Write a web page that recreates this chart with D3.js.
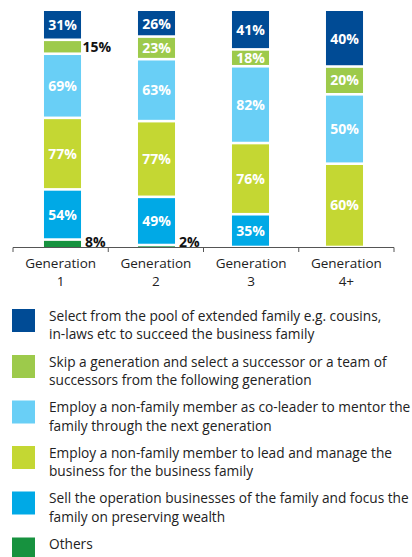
<!DOCTYPE html>
<html><head><meta charset="utf-8">
<script src="https://cdn.jsdelivr.net/npm/d3@7"></script>
<style>body{margin:0;background:#fff}svg{display:block;font-family:"Open Sans",sans-serif}</style>
</head><body><svg id="c" width="412" height="557"></svg>
<script>
const generations = [["Generation","1"],["Generation","2"],["Generation","3"],["Generation","4+"]];
const seriesNames = [
  "Others",
  "Sell the operation businesses of the family and focus the family on preserving wealth",
  "Employ a non-family member to lead and manage the business for the business family",
  "Employ a non-family member as co-leader to mentor the family through the next generation",
  "Skip a generation and select a successor or a team of successors from the following generation",
  "Select from the pool of extended family e.g. cousins, in-laws etc to succeed the business family"
];
const legendLines = [
  ["Select from the pool of extended family e.g. cousins,","in-laws etc to succeed the business family"],
  ["Skip a generation and select a successor or a team of","successors from the following generation"],
  ["Employ a non-family member as co-leader to mentor the","family through the next generation"],
  ["Employ a non-family member to lead and manage the","business for the business family"],
  ["Sell the operation businesses of the family and focus the","family on preserving wealth"],
  ["Others"]
];
const colors = ["#17923f","#00a9e6","#c4d733","#69cff6","#9dca4b","#004b95"];
// values per series (bottom to top), one per generation
const others    = [8, 2, 0, 0];
const sell      = [54, 49, 35, 0];
const employLead= [77, 77, 76, 60];
const coLeader  = [69, 63, 82, 50];
const skipGen   = [15, 23, 18, 20];
const extended  = [31, 26, 41, 40];
const series = [others, sell, employLead, coLeader, skipGen, extended];

const svg = d3.select("#c");
const keys = generations.map(g => g.join(" "));
const xBar = d3.scaleBand().domain(keys).range([15.5, 391.5]).paddingInner(0.606).paddingOuter(0.303);
const xAxis = d3.scaleBand().domain(keys).range([13, 394]);
const y = d3.scaleLinear().domain([0, 1]).range([247, 11]);

const gap = 1.3;
keys.forEach((k, gi) => {
  const total = d3.sum(series, s => s[gi]);
  let acc = 0;
  series.forEach((s, si) => {
    const v = s[gi];
    if (!v) return;
    const y0 = y(acc / total), y1 = y((acc + v) / total);
    acc += v;
    const top = si === series.length - 1 ? y1 : y1 + gap;
    const bot = si === 0 ? y0 : y0 - gap;
    svg.append("rect").attr("x", xBar(k)).attr("width", xBar.bandwidth())
      .attr("y", top).attr("height", Math.max(0.5, bot - top)).attr("fill", colors[si]);
    const h = y0 - y1;
    const label = v + "%";
    if (h >= 15) {
      svg.append("text").attr("x", xBar(k) + xBar.bandwidth() / 2).attr("y", (y0 + y1) / 2)
        .attr("dy", "0.36em").attr("text-anchor", "middle").attr("fill", "#fff")
        .attr("font-weight", "bold").attr("font-size", 14).text(label);
    } else {
      svg.append("text").attr("x", xBar(k) + xBar.bandwidth() + (si === 0 ? 4 : 1.5))
        .attr("y", Math.min((y0 + y1) / 2, 241.5)).attr("dy", "0.36em")
        .attr("fill", "#111").attr("font-weight", "bold").attr("font-size", 14).text(label);
    }
  });
});

// axis
const axisG = svg.append("g").attr("stroke", "#555").attr("stroke-width", 1);
axisG.append("line").attr("x1", 13).attr("x2", 394).attr("y1", 247.5).attr("y2", 247.5);
const bounds = keys.map(k => xAxis(k)).concat([xAxis.range()[1]]);
bounds.forEach(b => axisG.append("line").attr("x1", b).attr("x2", b).attr("y1", 247.5).attr("y2", 252));
generations.forEach((g, i) => {
  const t = svg.append("text").attr("text-anchor", "middle").attr("fill", "#222").attr("font-size", 13.5);
  g.forEach((line, li) => t.append("tspan").attr("x", xAxis(keys[i]) + xAxis.bandwidth() / 2)
    .attr("y", 267.5 + li * 18).text(line));
});

// legend
const legTop = [309, 355, 400.5, 446, 491.5, 537.5];
legendLines.forEach((lines, i) => {
  const si = series.length - 1 - i;
  svg.append("rect").attr("x", 12).attr("y", legTop[i]).attr("width", 23).attr("height", 23).attr("fill", colors[si]);
  const t = svg.append("text").attr("fill", "#222").attr("font-size", 13.7);
  lines.forEach((line, li) => t.append("tspan").attr("x", 49).attr("y", legTop[i] + 11.5 + li * 18.7).text(line));
});
</script></body></html>
